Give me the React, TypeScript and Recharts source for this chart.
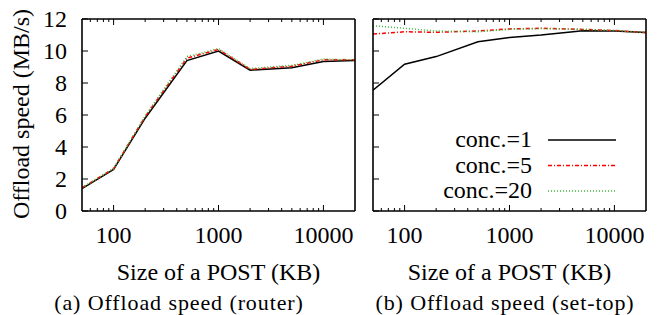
import React from "react";
import { LineChart, Line, XAxis, YAxis, Legend } from "recharts";

// POST sizes (KB) on a log axis
const sizes = [50, 100, 200, 500, 1000, 2000, 5000, 10000, 20000];

// (a) router
const routerConc1 = [1.4, 2.6, 5.8, 9.4, 10.0, 8.8, 8.95, 9.35, 9.4];
const routerConc5 = [1.45, 2.65, 5.9, 9.55, 10.1, 8.85, 9.05, 9.45, 9.45];
const routerConc20 = [1.45, 2.65, 5.95, 9.65, 10.15, 8.9, 9.1, 9.5, 9.45];

// (b) set-top
const settopConc1 = [7.55, 9.17, 9.65, 10.58, 10.85, 11.0, 11.27, 11.25, 11.15];
const settopConc5 = [11.06, 11.2, 11.17, 11.25, 11.38, 11.42, 11.35, 11.28, 11.15];
const settopConc20 = [11.58, 11.42, 11.25, 11.2, 11.35, 11.4, 11.35, 11.28, 11.15];

const xTicks = [
  60, 70, 80, 90, 100, 200, 300, 400, 500, 600, 700, 800, 900, 1000, 2000,
  3000, 4000, 5000, 6000, 7000, 8000, 9000, 10000,
];
const xMajor = [100, 1000, 10000];
const yTicks = [0, 2, 4, 6, 8, 10, 12];

const FONT = "Liberation Serif";

const series = [
  { key: "c1", name: "conc.=1", color: "#000000", dash: undefined as string | undefined },
  { key: "c5", name: "conc.=5", color: "#ff0000", dash: "4 2 1 2" },
  { key: "c20", name: "conc.=20", color: "#3cb83c", dash: "1 2" },
];

function buildRows(c1: number[], c5: number[], c20: number[]) {
  return sizes.map((s, i) => ({ size: s, c1: c1[i], c5: c5[i], c20: c20[i] }));
}

const routerRows = buildRows(routerConc1, routerConc5, routerConc20);
const settopRows = buildRows(settopConc1, settopConc5, settopConc20);

function BottomTick(props: any) {
  const { x, y, payload } = props;
  const major = xMajor.includes(payload.value);
  return (
    <g>
      <line x1={x} y1={y} x2={x} y2={y - (major ? 6 : 3)} stroke="#000" strokeWidth={1} />
      {major && (
        <text x={x} y={y + 32} textAnchor="middle" fontSize={24} fontFamily={FONT} fill="#000">
          {payload.value}
        </text>
      )}
    </g>
  );
}

function TopTick(props: any) {
  const { x, y, payload } = props;
  const major = xMajor.includes(payload.value);
  return <line x1={x} y1={y} x2={x} y2={y + (major ? 6 : 3)} stroke="#000" strokeWidth={1} />;
}

function LeftTick(props: any) {
  const { x, y, payload, showLabel } = props;
  return (
    <g>
      <line x1={x} y1={y} x2={x + 6} y2={y} stroke="#000" strokeWidth={1} />
      {showLabel && (
        <text x={x - 15} y={y + 8} textAnchor="end" fontSize={24} fontFamily={FONT} fill="#000">
          {payload.value}
        </text>
      )}
    </g>
  );
}

function RightTick(props: any) {
  const { x, y } = props;
  return <line x1={x} y1={y} x2={x - 6} y2={y} stroke="#000" strokeWidth={1} />;
}

function renderLegend() {
  return (
    <svg width={304} height={215} style={{ overflow: "visible" }}>
      {series.map((s, i) => {
        const cy = 140 + i * 25.5;
        return (
          <g key={s.key}>
            <text x={172} y={cy + 7} textAnchor="end" fontSize={24} fontFamily={FONT} fill="#000">
              {s.name}
            </text>
            <line
              x1={188}
              y1={cy}
              x2={256}
              y2={cy}
              stroke={s.color}
              strokeWidth={1.5}
              strokeDasharray={s.dash}
            />
          </g>
        );
      })}
    </svg>
  );
}

function Panel(props: {
  rows: any[];
  left: number;
  width: number;
  margin: { top: number; right: number; bottom: number; left: number };
  yLabels: boolean;
  legend: boolean;
}) {
  const { rows, left, width, margin, yLabels, legend } = props;
  return (
    <div style={{ position: "absolute", left, top: 0 }}>
      <LineChart width={width} height={315} data={rows} margin={margin}>
        <XAxis
          xAxisId="bottom"
          dataKey="size"
          type="number"
          scale="log"
          domain={[50, 20000]}
          allowDataOverflow
          ticks={xTicks}
          interval={0}
          height={1}
          tickSize={0}
          tickMargin={0}
          tickLine={false}
          axisLine={{ stroke: "#000", strokeWidth: 1.6 }}
          tick={(p: any) => <BottomTick {...p} />}
          label={{
            content: (lp: any) => {
              const vb = lp.viewBox;
              return (
                <text
                  x={vb.x + vb.width / 2}
                  y={vb.y + 69}
                  textAnchor="middle"
                  fontSize={24}
                  fontFamily={FONT}
                  fill="#000"
                >
                  Size of a POST (KB)
                </text>
              );
            },
          }}
        />
        <XAxis
          xAxisId="top"
          orientation="top"
          dataKey="size"
          type="number"
          scale="log"
          domain={[50, 20000]}
          allowDataOverflow
          ticks={xTicks}
          interval={0}
          height={1}
          tickSize={0}
          tickMargin={0}
          tickLine={false}
          axisLine={{ stroke: "#000", strokeWidth: 1.6 }}
          tick={(p: any) => <TopTick {...p} />}
        />
        <YAxis
          yAxisId="left"
          type="number"
          domain={[0, 12]}
          ticks={yTicks}
          interval={0}
          width={1}
          tickSize={0}
          tickMargin={0}
          tickLine={false}
          axisLine={{ stroke: "#000", strokeWidth: 1.6 }}
          tick={(p: any) => <LeftTick {...p} showLabel={yLabels} />}
          label={
            yLabels
              ? {
                  content: (lp: any) => {
                    const vb = lp.viewBox;
                    const cx = vb.x - 52;
                    const cy = vb.y + vb.height / 2 - 1;
                    return (
                      <text
                        x={cx}
                        y={cy}
                        transform={`rotate(-90, ${cx}, ${cy})`}
                        textAnchor="middle"
                        fontSize={24}
                        fontFamily={FONT}
                        fill="#000"
                      >
                        Offload speed (MB/s)
                      </text>
                    );
                  },
                }
              : undefined
          }
        />
        <YAxis
          yAxisId="right"
          orientation="right"
          type="number"
          domain={[0, 12]}
          ticks={yTicks}
          interval={0}
          width={1}
          tickSize={0}
          tickMargin={0}
          tickLine={false}
          axisLine={{ stroke: "#000", strokeWidth: 1.6 }}
          tick={(p: any) => <RightTick {...p} />}
        />
        {legend && (
          <Legend
            layout="vertical"
            align="center"
            verticalAlign="middle"
            width={304}
            height={215}
            wrapperStyle={{ left: 0, top: 0 }}
            content={renderLegend}
          />
        )}
        {series.map((s) => (
          <Line
            key={s.key}
            xAxisId="bottom"
            yAxisId="left"
            type="linear"
            dataKey={s.key}
            name={s.name}
            stroke={s.color}
            strokeWidth={1.5}
            strokeDasharray={s.dash}
            dot={false}
            isAnimationActive={false}
          />
        ))}
      </LineChart>
    </div>
  );
}

const captionStyle: React.CSSProperties = {
  position: "absolute",
  top: 293,
  width: 320,
  textAlign: "center",
  fontFamily: FONT,
  fontSize: 22,
  lineHeight: "20px",
  letterSpacing: 0.9,
  color: "#000",
  whiteSpace: "nowrap",
};

export default function App() {
  return (
    <div
      style={{
        position: "absolute",
        left: 0,
        top: 0,
        width: 664,
        height: 315,
        background: "#fff",
        overflow: "hidden",
      }}
    >
      <Panel
        rows={routerRows}
        left={0}
        width={360}
        margin={{ top: 18, right: 4, bottom: 103, left: 81 }}
        yLabels
        legend={false}
      />
      <Panel
        rows={settopRows}
        left={360}
        width={304}
        margin={{ top: 18, right: 17, bottom: 103, left: 12 }}
        yLabels={false}
        legend
      />
      <div style={{ ...captionStyle, left: 179 - 160 }}>(a) Offload speed (router)</div>
      <div style={{ ...captionStyle, left: 505 - 160 }}>(b) Offload speed (set-top)</div>
    </div>
  );
}
